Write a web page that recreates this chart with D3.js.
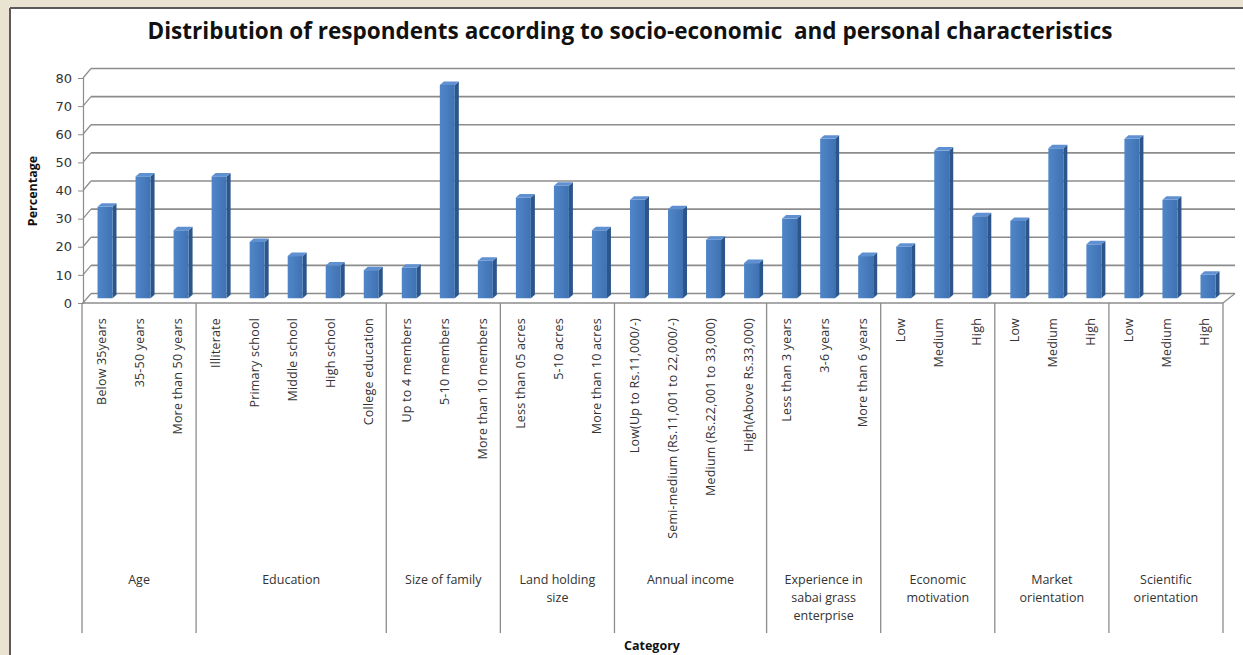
<!DOCTYPE html>
<html>
<head>
<meta charset="utf-8">
<script src="https://cdn.jsdelivr.net/npm/d3@7"></script>
<style>
  html, body { margin: 0; padding: 0; background: #ebe3d1; }
  svg { display: block; }
</style>
</head>
<body>
<svg id="chart" width="1243" height="655"></svg>
<script>
const title = "Distribution of respondents according to socio-economic  and personal characteristics";
const yTitle = "Percentage";
const xTitle = "Category";
const yTicks = [0, 10, 20, 30, 40, 50, 60, 70, 80];
const groupLabels = [
  ["Age"],
  ["Education"],
  ["Size of family"],
  ["Land holding", "size"],
  ["Annual income"],
  ["Experience in", "sabai grass", "enterprise"],
  ["Economic", "motivation"],
  ["Market", "orientation"],
  ["Scientific", "orientation"]
];
const groupSizes = [3, 5, 3, 3, 4, 3, 3, 3, 3];
const categories = [
  "Below 35years", "35-50 years", "More than 50 years",
  "Illiterate", "Primary school", "Middle school", "High school", "College education",
  "Up to 4 members", "5-10 members", "More than 10 members",
  "Less than 05 acres", "5-10 acres", "More than 10 acres",
  "Low(Up to Rs.11,000/-)", "Semi-medium (Rs.11,001 to 22,000/-)", "Medium (Rs.22,001 to 33,000)", "High(Above Rs.33,000)",
  "Less than 3 years", "3-6 years", "More than 6 years",
  "Low", "Medium", "High",
  "Low", "Medium", "High",
  "Low", "Medium", "High"
];
const values = [
  32.5, 43.33, 24.17,
  43.33, 20, 15, 11.67, 10,
  10.83, 75.83, 13.33,
  35.83, 40, 24.17,
  35, 31.67, 20.83, 12.5,
  28.33, 56.67, 15,
  18.33, 52.5, 29.17,
  27.5, 53.33, 19.17,
  56.67, 35, 8.33
];

const svg = d3.select("#chart");
const W = 1243, H = 655;

// chart area (white) with frame
svg.append("rect").attr("x", 10).attr("y", 8).attr("width", W - 10).attr("height", H - 8)
  .attr("fill", "#ffffff");
svg.append("line").attr("x1", 10).attr("y1", 8).attr("x2", 10).attr("y2", H)
  .attr("stroke", "#5a5a5a").attr("stroke-width", 2);
svg.append("line").attr("x1", 10).attr("y1", 8).attr("x2", W).attr("y2", 8)
  .attr("stroke", "#5a5a5a").attr("stroke-width", 2);

// scales
const x0 = 82, x1 = 1223;
const idx = d3.range(categories.length);
const x = d3.scaleBand().domain(idx).range([x0, x1]).padding(0);
const y = d3.scaleLinear().domain([0, 80]).range([303, 78]);
const depthX = 9, depthY = -9.5;

// title
svg.append("text").attr("x", 630).attr("y", 39).attr("text-anchor", "middle")
  .style("white-space", "pre")
  .attr("font-family", "'Open Sans', sans-serif").attr("font-weight", "bold")
  .attr("font-size", 22.5).attr("fill", "#111").text(title);

// gridlines (back wall + left wall diagonals)
const grid = svg.append("g");
yTicks.forEach(t => {
  const yf = y(t), yb = y(t) + depthY;
  grid.append("line").attr("x1", x0 + depthX).attr("y1", yb).attr("x2", x1 + depthX + 3).attr("y2", yb)
    .attr("stroke", "#8c8c8c").attr("stroke-width", 1.6);
  grid.append("line").attr("x1", x0 + 1).attr("y1", yf).attr("x2", x0 + depthX).attr("y2", yb)
    .attr("stroke", "#8c8c8c").attr("stroke-width", 1.2);
});
// floor front edge and right edge
grid.append("line").attr("x1", x0).attr("y1", y(0)).attr("x2", x1).attr("y2", y(0))
  .attr("stroke", "#8c8c8c").attr("stroke-width", 1.4);
grid.append("line").attr("x1", x1).attr("y1", y(0)).attr("x2", x1 + depthX + 3).attr("y2", y(0) + depthY)
  .attr("stroke", "#8c8c8c").attr("stroke-width", 1.2);

// y axis
const yAxis = d3.axisLeft(y).tickValues(yTicks).tickSize(5).tickPadding(6);
const ya = svg.append("g").attr("transform", `translate(${x0 + 1},0)`).call(yAxis);
ya.select(".domain").attr("stroke", "#8c8c8c").attr("stroke-width", 1.2);
ya.selectAll(".tick line").attr("stroke", "#8c8c8c");
ya.selectAll(".tick text").attr("font-family", "'DejaVu Sans', sans-serif")
  .attr("font-size", 13).attr("fill", "#333");

// y title
svg.append("text").attr("transform", "translate(37,191) rotate(-90)")
  .attr("text-anchor", "middle").attr("font-family", "'Open Sans', sans-serif")
  .attr("font-weight", "bold").attr("font-size", 12.5).attr("fill", "#111").text(yTitle);

const defs = svg.append("defs");
const grad = defs.append("linearGradient").attr("id", "frontGrad")
  .attr("x1", "0%").attr("y1", "0%").attr("x2", "100%").attr("y2", "0%");
grad.append("stop").attr("offset", "0%").attr("stop-color", "#5086c8");
grad.append("stop").attr("offset", "100%").attr("stop-color", "#3f72b3");

// bars (3D columns at mid depth)
const barW = 15, sideW = 4, topH = 3.5;
const bars = svg.append("g");
idx.forEach(i => {
  const v = values[i];
  const cx = x(i) + x.bandwidth() / 2;
  const bx = cx - 3.5;            // front face left
  const yb = y(0) + depthY / 2;   // bottom at mid depth
  const yt = y(v) + depthY / 2;   // top at mid depth
  bars.append("path")
    .attr("d", `M${bx + barW},${yb} L${bx + barW + sideW},${yb - topH} L${bx + barW + sideW},${yt - topH} L${bx + barW},${yt} Z`)
    .attr("fill", "#2c568a");
  bars.append("rect").attr("x", bx).attr("y", yt).attr("width", barW).attr("height", yb - yt)
    .attr("fill", "url(#frontGrad)");
  bars.append("path")
    .attr("d", `M${bx},${yt} L${bx + sideW},${yt - topH} L${bx + barW + sideW},${yt - topH} L${bx + barW},${yt} Z`)
    .attr("fill", "#5f90d2");
});

// category tick labels (rotated)
const labels = svg.append("g");
idx.forEach(i => {
  const cx = x(i) + x.bandwidth() / 2;
  labels.append("text")
    .attr("transform", `translate(${cx + 1},${318}) rotate(-90)`)
    .attr("text-anchor", "end").attr("dy", "0.35em")
    .attr("font-family", "'Open Sans', sans-serif").attr("font-size", 12.5)
    .attr("letter-spacing", 0.2)
    .attr("fill", "#333").text(categories[i]);
});

// group separators & group labels
let start = 0;
const bounds = [x0];
groupSizes.forEach(n => { start += n; bounds.push(x(start - 1) + x.bandwidth()); });
const sep = svg.append("g");
bounds.forEach(b => {
  sep.append("line").attr("x1", b).attr("y1", y(0)).attr("x2", b).attr("y2", 633)
    .attr("stroke", "#8c8c8c").attr("stroke-width", 1.3);
});
groupLabels.forEach((lines, g) => {
  const cx = (bounds[g] + bounds[g + 1]) / 2;
  const t = svg.append("text").attr("text-anchor", "middle")
    .attr("font-family", "'Open Sans', sans-serif").attr("font-size", 12.5).attr("fill", "#333");
  lines.forEach((ln, k) => {
    t.append("tspan").attr("x", cx).attr("y", 584 + k * 18).text(ln);
  });
});

// x title
svg.append("text").attr("x", 652).attr("y", 650).attr("text-anchor", "middle")
  .attr("font-family", "'Open Sans', sans-serif").attr("font-weight", "bold")
  .attr("font-size", 12.5).attr("fill", "#111").text(xTitle);
</script>
</body>
</html>
